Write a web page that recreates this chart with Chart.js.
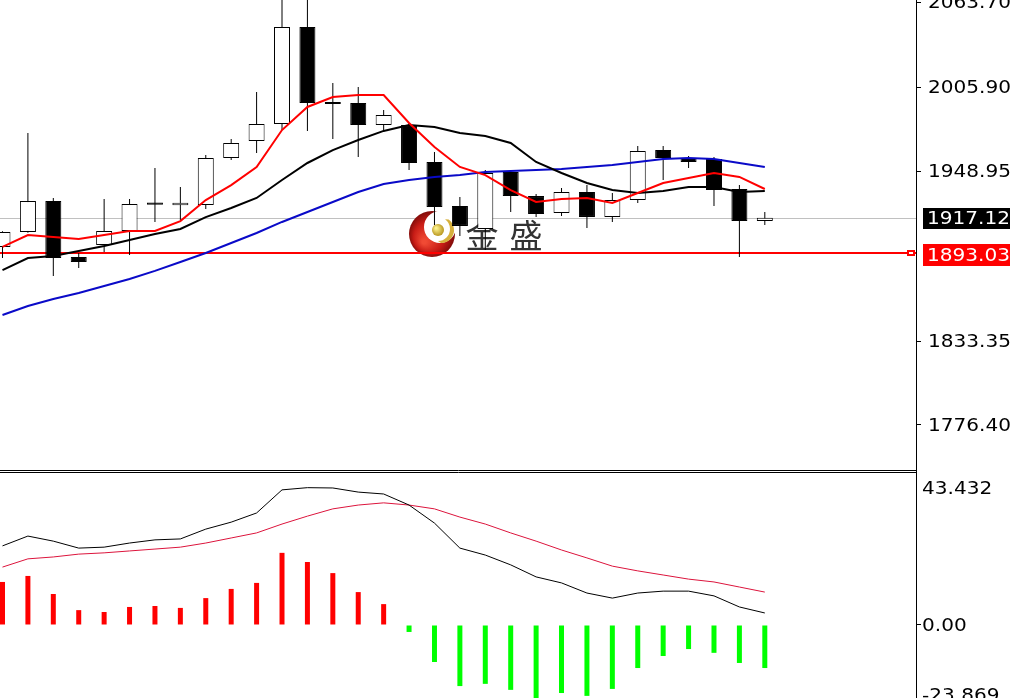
<!DOCTYPE html>
<html>
<head>
<meta charset="utf-8">
<script src="https://cdn.jsdelivr.net/npm/chart.js@4.4.1/dist/chart.umd.min.js"></script>
<style>
    html, body { margin: 0; padding: 0; background: #fff; }
    #wrap { position: relative; width: 1010px; height: 698px; overflow: hidden; }
    #priceChart { position: absolute; left: 0; top: 0; }
    #macdChart { position: absolute; left: 0; top: 470px; }
</style>
</head>
<body>
<div id="wrap">
    <canvas id="priceChart" width="1010" height="470"></canvas>
    <canvas id="macdChart" width="1010" height="228"></canvas>
</div>
<script>
// candles (oldest -> newest)
const open  = [1897.3, 1907.5, 1928.5, 1890.5, 1898.6, 1908.2, 1927.6, 1925.7, 1925.8, 1957.8, 1969.4, 1980.9, 2046.9, 1995.9, 1995.2, 1980.2, 1980.2, 1955.1, 1925.2, 1909.5, 1948.3, 1931.9, 1920.4, 1934.7, 1917.7, 1929.2, 1963.2, 1957.8, 1957.1, 1936.7, 1915.0];
const high  = [1907.9, 1974.8, 1930.6, 1893.2, 1929.9, 1929.9, 1951.0, 1938.1, 1959.8, 1970.7, 2002.7, 2078.0, 2075.0, 2008.8, 2006.1, 1990.4, 1981.6, 1961.9, 1931.3, 1949.6, 1949.6, 1933.3, 1937.4, 1939.4, 1934.0, 1966.0, 1966.0, 1959.2, 1958.5, 1939.4, 1921.1];
const low   = [1889.8, 1907.0, 1877.6, 1883.0, 1893.9, 1891.8, 1914.3, 1915.6, 1923.1, 1956.4, 1961.2, 1976.8, 1976.2, 1970.7, 1958.5, 1976.8, 1949.6, 1912.2, 1904.8, 1895.2, 1921.1, 1917.7, 1918.4, 1910.2, 1914.3, 1927.2, 1942.8, 1951.0, 1925.2, 1890.5, 1912.2];
const close = [1907.5, 1928.5, 1889.8, 1887.1, 1908.2, 1926.5, 1926.0, 1927.3, 1957.8, 1968.0, 1980.9, 2046.9, 1995.2, 1994.5, 1980.2, 1987.0, 1954.4, 1924.5, 1911.6, 1947.6, 1931.9, 1919.7, 1934.7, 1917.7, 1929.2, 1962.6, 1957.8, 1955.1, 1936.0, 1915.0, 1917.12];

// moving averages as drawn (red fast, black middle, blue slow)
const maFast = [1897.3, 1905.4, 1904.1, 1902.7, 1905.4, 1908.2, 1908.2, 1914.9, 1929.2, 1939.4, 1951.7, 1976.8, 1992.5, 1999.3, 2000.6, 2000.6, 1981.6, 1965.3, 1951.7, 1946.2, 1936.0, 1927.9, 1929.9, 1930.6, 1927.2, 1934.0, 1940.8, 1944.2, 1947.6, 1944.9, 1936.7];
const maMid  = [1881.6, 1889.8, 1891.1, 1894.5, 1897.9, 1902.0, 1906.1, 1909.5, 1917.6, 1923.8, 1930.6, 1942.8, 1954.4, 1963.2, 1970.0, 1976.2, 1980.2, 1978.9, 1974.8, 1972.8, 1968.0, 1955.1, 1947.6, 1940.8, 1936.0, 1934.0, 1935.4, 1938.1, 1938.1, 1934.7, 1935.4];
const maSlow = [1851.0, 1857.1, 1861.9, 1866.0, 1870.8, 1875.5, 1881.0, 1887.1, 1893.2, 1900.0, 1906.8, 1914.3, 1921.1, 1927.9, 1934.7, 1940.1, 1942.8, 1944.9, 1946.2, 1948.3, 1948.9, 1949.6, 1950.3, 1951.7, 1953.0, 1955.1, 1957.1, 1957.8, 1957.1, 1954.4, 1951.7];

// MACD window
const macdHist   = [13.6, 15.5, 9.8, 4.7, 4.1, 5.7, 6.0, 5.4, 8.5, 11.4, 13.3, 22.8, 19.9, 16.4, 10.4, 6.6, -2.2, -11.7, -19.3, -18.6, -20.5, -23.1, -21.5, -22.4, -20.2, -13.6, -9.8, -7.6, -8.8, -12.0, -13.6];
const macdLine   = [25.0, 28.1, 26.5, 24.3, 24.6, 25.9, 26.9, 27.2, 30.3, 32.5, 35.4, 42.7, 43.4, 43.3, 42.0, 41.4, 37.9, 32.2, 24.3, 22.1, 19.0, 15.2, 13.3, 10.1, 8.5, 10.1, 10.7, 10.7, 9.2, 5.7, 3.8];
const signalLine = [18.3, 20.9, 21.5, 22.4, 22.8, 23.4, 24.0, 24.6, 25.9, 27.5, 29.1, 31.9, 34.4, 36.7, 37.9, 38.6, 37.9, 36.7, 34.1, 31.9, 29.1, 26.5, 23.7, 21.2, 18.6, 17.1, 15.8, 14.5, 13.6, 12.0, 10.4];

// axis labels
const priceTicks = ['2063.70', '2005.90', '1948.95', '1833.35', '1776.40'];
const macdTicks = ['43.432', '0.00', '-23.869'];
const bidPrice = 1917.12;
const levelPrice = 1893.03;

const X_MIN = -0.098, X_MAX = 35.95;
const AXIS_FONT = '17px "DejaVu Sans"';

function pts(arr) {
    return arr.map((v, i) => ({ x: i, y: v }));
}

// MT4 style axis text (wide)
function axisText(ctx, text, x, y, color) {
    ctx.save();
    ctx.translate(x, y + 6);
    ctx.scale(1.18, 1);
    ctx.font = AXIS_FONT;
    ctx.fillStyle = color;
    ctx.textAlign = 'left';
    ctx.textBaseline = 'alphabetic';
    ctx.fillText(text, 0, 0);
    ctx.restore();
}

function drawLogo(ctx, cx, cy) {
    ctx.save();
    // red crescent
    const g = ctx.createRadialGradient(cx - 8, cy + 8, 2, cx, cy, 24);
    g.addColorStop(0, '#f04a34');
    g.addColorStop(0.6, '#c81c16');
    g.addColorStop(1, '#7a0a08');
    ctx.fillStyle = g;
    ctx.beginPath(); ctx.arc(cx, cy, 23, 0, Math.PI * 2); ctx.fill();
    ctx.fillStyle = '#fff';
    ctx.beginPath(); ctx.arc(cx + 8, cy - 7, 16, 0, Math.PI * 2); ctx.fill();
    // thin golden crescent on the right
    ctx.fillStyle = '#d6b03c';
    ctx.beginPath();
    ctx.arc(cx + 9, cy - 4, 13, -Math.PI * 0.3, Math.PI * 0.5);
    ctx.arc(cx + 6, cy - 5, 12, Math.PI * 0.5, -Math.PI * 0.3, true);
    ctx.fill();
    // golden ball
    const b = ctx.createRadialGradient(cx + 4, cy - 6, 1, cx + 6, cy - 4, 7);
    b.addColorStop(0, '#fbf08a');
    b.addColorStop(1, '#b08a12');
    ctx.fillStyle = b;
    ctx.beginPath(); ctx.arc(cx + 6, cy - 4, 6, 0, Math.PI * 2); ctx.fill();
    // name
    ctx.fillStyle = '#333';
    ctx.font = '33px "Noto Sans CJK SC"';
    ctx.textAlign = 'center';
    ctx.textBaseline = 'middle';
    ctx.fillText('金', cx + 50, cy + 1);
    ctx.fillText('盛', cx + 94, cy + 1);
    ctx.restore();
}

const pricePlugin = {
    id: 'priceOverlay',
    beforeDatasetsDraw(chart) {
        const { ctx, chartArea: a, scales: { y } } = chart;
        ctx.save();
        const yb = Math.round(y.getPixelForValue(bidPrice)) + 0.5;
        ctx.strokeStyle = '#c0c0c0';
        ctx.lineWidth = 1;
        ctx.beginPath(); ctx.moveTo(a.left, yb); ctx.lineTo(a.right, yb); ctx.stroke();
        drawLogo(ctx, 432, 234);
        const yl = Math.round(y.getPixelForValue(levelPrice));
        ctx.strokeStyle = '#ff0000';
        ctx.lineWidth = 2;
        ctx.beginPath(); ctx.moveTo(a.left, yl); ctx.lineTo(a.right, yl); ctx.stroke();
        ctx.restore();
    },
    afterDraw(chart) {
        const { ctx, chartArea: a, scales: { y } } = chart;
        ctx.save();
        priceTicks.forEach((t) => axisText(ctx, t, a.right + 12, y.getPixelForValue(+t), '#000'));

        // level marker
        const yl = Math.round(y.getPixelForValue(levelPrice));
        ctx.fillStyle = '#fff';
        ctx.strokeStyle = '#ff0000';
        ctx.lineWidth = 2;
        ctx.fillRect(a.right - 8, yl - 2, 6, 4);
        ctx.strokeRect(a.right - 8, yl - 2, 6, 4);

        // price boxes
        const yb = y.getPixelForValue(bidPrice);
        ctx.fillStyle = '#000';
        ctx.fillRect(a.right + 7, Math.round(yb) - 10, 94, 21);
        axisText(ctx, bidPrice.toFixed(2), a.right + 11, yb, '#fff');
        ctx.fillStyle = '#ff0000';
        ctx.fillRect(a.right + 7, yl - 9, 94, 22);
        axisText(ctx, levelPrice.toFixed(2), a.right + 11, yl + 2, '#fff');
        ctx.restore();
    },
};

const macdPlugin = {
    id: 'macdOverlay',
    afterDraw(chart) {
        const { ctx, chartArea: a, scales: { y } } = chart;
        ctx.save();
        macdTicks.forEach((t) => {
            const py = Math.min(y.getPixelForValue(+t), a.bottom - 3);
            axisText(ctx, t, a.right + 6, py, '#000');
        });
        // window separator
        ctx.strokeStyle = '#000';
        ctx.lineWidth = 1;
        ctx.beginPath();
        ctx.moveTo(0, 0.5); ctx.lineTo(a.right + 1, 0.5);
        ctx.moveTo(0, 2.5); ctx.lineTo(a.right + 1, 2.5);
        ctx.stroke();
        ctx.restore();
    },
};

function rightAxis(min, max, tickValues) {
    return {
        position: 'right',
        min: min,
        max: max,
        afterFit(s) { s.width = 94; },
        afterBuildTicks(s) { s.ticks = tickValues.map((v) => ({ value: v })); },
        ticks: { display: false },
        grid: { drawOnChartArea: false, drawTicks: true, tickLength: 5, color: '#000' },
        border: { display: true, color: '#000', width: 1 },
    };
}

const xAxis = { type: 'linear', min: X_MIN, max: X_MAX, offset: false, display: false };

new Chart(document.getElementById('priceChart'), {
    type: 'line',
    data: {
        datasets: [
            { type: 'line', data: pts(maFast), borderColor: '#ff0000', borderWidth: 2, pointRadius: 0, order: 0 },
            { type: 'line', data: pts(maMid), borderColor: '#000000', borderWidth: 2, pointRadius: 0, order: 1 },
            { type: 'line', data: pts(maSlow), borderColor: '#0a0ac8', borderWidth: 2, pointRadius: 0, order: 1 },
            {
                type: 'bar',
                data: open.map((o, i) => ({ x: i, y: [o, close[i]] })),
                backgroundColor: open.map((o, i) => (close[i] >= o ? '#ffffff' : '#000000')),
                borderColor: '#000',
                borderWidth: 1,
                borderSkipped: false,
                inflateAmount: 0,
                barThickness: 16,
                grouped: false,
                order: 2,
            },
            {
                type: 'bar',
                data: high.map((h, i) => ({ x: i, y: [low[i], h] })),
                backgroundColor: '#000',
                borderWidth: 0,
                inflateAmount: 0,
                barThickness: 1,
                grouped: false,
                order: 3,
            },
        ],
    },
    options: {
        responsive: false,
        animation: false,
        devicePixelRatio: 1,
        events: [],
        layout: { padding: 0 },
        plugins: { legend: { display: false }, tooltip: { enabled: false } },
        scales: {
            x: xAxis,
            y: rightAxis(1745.63, 2065.23, priceTicks.map(Number)),
        },
    },
    plugins: [pricePlugin],
});

new Chart(document.getElementById('macdChart'), {
    type: 'line',
    data: {
        datasets: [
            { type: 'line', data: pts(macdLine), borderColor: '#000000', borderWidth: 1, pointRadius: 0, order: 0 },
            { type: 'line', data: pts(signalLine), borderColor: '#dc143c', borderWidth: 1, pointRadius: 0, order: 1 },
            {
                type: 'bar',
                data: pts(macdHist),
                backgroundColor: macdHist.map((v) => (v >= 0 ? '#ff0000' : '#00ff00')),
                barThickness: 5,
                inflateAmount: 0,
                grouped: false,
                order: 2,
            },
        ],
    },
    options: {
        responsive: false,
        animation: false,
        devicePixelRatio: 1,
        events: [],
        layout: { padding: 0 },
        plugins: { legend: { display: false }, tooltip: { enabled: false } },
        scales: {
            x: xAxis,
            y: rightAxis(-23.07, 48.98, [0]),
        },
    },
    plugins: [macdPlugin],
});
</script>
</body>
</html>
